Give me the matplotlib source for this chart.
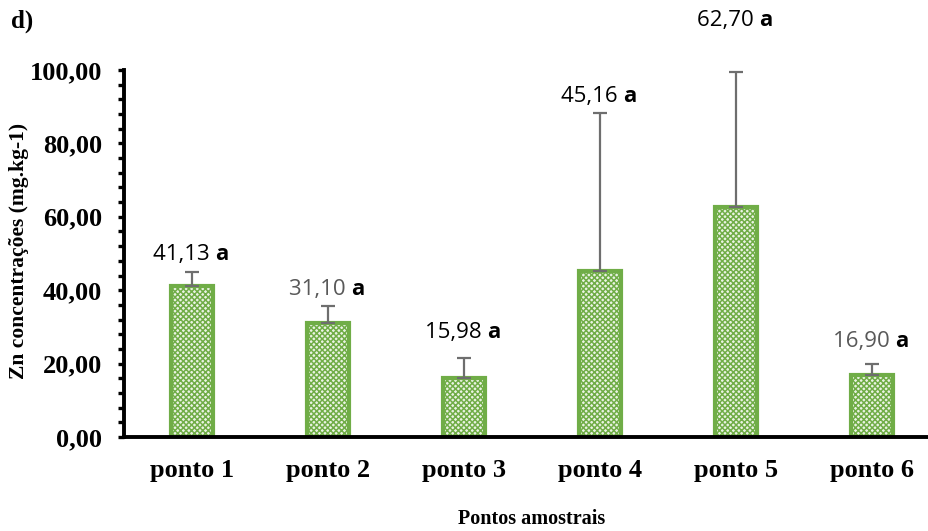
import matplotlib
matplotlib.use("Agg")
import matplotlib.pyplot as plt
from matplotlib.ticker import MultipleLocator, FuncFormatter

categories = ["ponto 1", "ponto 2", "ponto 3", "ponto 4", "ponto 5", "ponto 6"]
values = [41.13, 31.10, 15.98, 45.16, 62.70, 16.90]
errors = [3.7, 4.6, 5.5, 43.1, 36.8, 3.0]
letters = ["a", "a", "a", "a", "a", "a"]
label_colors = ["#000000", "#595959", "#000000", "#000000", "#000000", "#595959"]
label_offsets = [5.0, 4.6, 6.9, 4.6, 14.0, 6.0]  # data units above error cap

W, H = 929, 531
fig = plt.figure(figsize=(W / 100, H / 100), dpi=100)
left, right, top, bottom = 124, 929, 70, 437
ax = fig.add_axes([left / W, (H - bottom) / H, (right - left) / W, (bottom - top) / H])

plt.rcParams['hatch.linewidth'] = 1.1
x = list(range(len(categories)))
bars = ax.bar(x, values, width=0.315, facecolor="#eaf3e3", edgecolor="#70AD47",
              linewidth=3, hatch="xxxxxx", zorder=2)
ax.errorbar(x, values, yerr=[[0] * len(values), errors], fmt="none",
            ecolor="#6e6e6e", elinewidth=1.6, capsize=5, capthick=1.6, zorder=3)

ax.set_xlim(-0.5, -0.5 + (right - left) / 136.0)
ax.set_ylim(0, 100)

for xi, v, e, l, c, off in zip(x, values, errors, letters, label_colors, label_offsets):
    ty = v + e + off
    ax.annotate(f"{v:.2f}".replace(".", ",") + " ", (xi, ty), ha="right", va="center",
                xytext=(17, 0), textcoords="offset points",
                fontsize=16, color=c, family="Open Sans", annotation_clip=False)
    ax.annotate(l, (xi, ty), ha="left", va="center", xytext=(17, 0),
                textcoords="offset points", fontsize=16, color="#000000",
                family="Open Sans", fontweight="bold", annotation_clip=False)

for s in ["top", "right"]:
    ax.spines[s].set_visible(False)
ax.spines["left"].set_linewidth(2.8)
ax.spines["bottom"].set_linewidth(2.8)

ax.yaxis.set_major_locator(MultipleLocator(20))
ax.yaxis.set_minor_locator(MultipleLocator(4))
ax.yaxis.set_major_formatter(FuncFormatter(lambda v, p: f"{v:.2f}".replace(".", ",")))
ax.tick_params(axis="y", which="both", direction="out", length=4, width=2.4, pad=12)
ax.tick_params(axis="x", which="both", length=0, pad=16)
ax.set_xticks(x)
ax.set_xticklabels(categories)
for lbl in ax.get_yticklabels() + ax.get_xticklabels():
    lbl.set_family("Liberation Serif")
    lbl.set_fontweight("bold")
    lbl.set_fontsize(19)

fig.text(19 / W, 1 - 251 / H, "Zn concentrações (mg.kg-1)", rotation=90, ha="center",
         va="center", family="Liberation Serif", fontweight="bold", fontsize=15.5)
fig.text(532 / W, 1 - 519 / H, "Pontos amostrais", ha="center", va="center",
         family="Liberation Serif", fontweight="bold", fontsize=14.5)
fig.text(11 / W, 1 - 21 / H, "d)", ha="left", va="center",
         family="Liberation Serif", fontweight="bold", fontsize=18)

fig.savefig("out.png", dpi=100)
